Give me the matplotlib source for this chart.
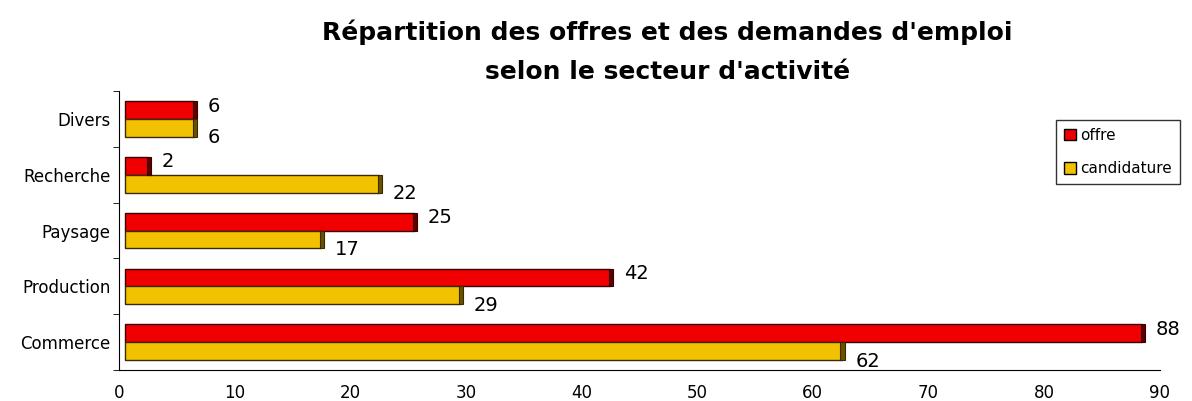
import numpy as np
import matplotlib.pyplot as plt
from matplotlib.patches import Patch

# data
secteurs = ['Commerce', 'Production', 'Paysage', 'Recherche', 'Divers']
offre = [88, 42, 25, 2, 6]
candidature = [62, 29, 17, 22, 6]

fig = plt.figure(figsize=(11.92, 4.01), dpi=100)
ax = fig.add_axes([0.0998, 0.077, 0.873, 0.696])

y = np.arange(len(secteurs))
h = 0.32
start = 0.5  # bars start a little right of the axis

red, red_dark = '#f00000', '#5c0000'
yel, yel_dark = '#f2c200', '#6a5200'

ax.barh(y + h/2, offre, height=h, left=start, color=red, edgecolor='#3a0000', linewidth=1)
ax.barh(y - h/2, candidature, height=h, left=start, color=yel, edgecolor='#3a2a00', linewidth=1)
# darker end caps (pseudo 3D)
ax.barh(y + h/2, [0.35]*len(y), height=h, left=np.array(offre) + start - 0.1, color=red_dark, edgecolor='#3a0000', linewidth=0.8)
ax.barh(y - h/2, [0.35]*len(y), height=h, left=np.array(candidature) + start - 0.1, color=yel_dark, edgecolor='#3a2a00', linewidth=0.8)

for i in range(len(y)):
    ax.text(offre[i] + start + 1.2, y[i] + h/2 + 0.07, str(offre[i]), fontsize=14, va='center', ha='left')
    ax.text(candidature[i] + start + 1.2, y[i] - h/2 - 0.18, str(candidature[i]), fontsize=14, va='center', ha='left')

ax.set_xlim(0, 90)
ax.set_ylim(-0.5, 4.5)
ax.set_xticks(np.arange(0, 91, 10))
ax.tick_params(axis='x', length=0, labelsize=12, pad=10)
ax.set_yticks(y)
ax.set_yticklabels(secteurs, fontsize=12)
ax.set_yticks(np.arange(-0.5, 5, 1), minor=True)
ax.tick_params(axis='y', which='major', length=0, pad=6)
ax.tick_params(axis='y', which='minor', length=4)
for s in ['top', 'right']:
    ax.spines[s].set_visible(False)

fig.text(0.56, 0.92, "Répartition des offres et des demandes d'emploi", ha='center', va='center',
         fontsize=18, fontweight='bold')
fig.text(0.56, 0.82, "selon le secteur d'activité", ha='center', va='center',
         fontsize=18, fontweight='bold')

handles = [Patch(facecolor=red, edgecolor='black'), Patch(facecolor=yel, edgecolor='black')]
fig.legend(handles, ['offre', 'candidature'], loc='upper left', bbox_to_anchor=(0.886, 0.70),
           borderaxespad=0, fontsize=11, frameon=True, fancybox=False, edgecolor='black',
           handlelength=0.8, handleheight=0.8, handletextpad=0.3, labelspacing=1.2, borderpad=0.5)

fig.savefig('out.png', dpi=100)
